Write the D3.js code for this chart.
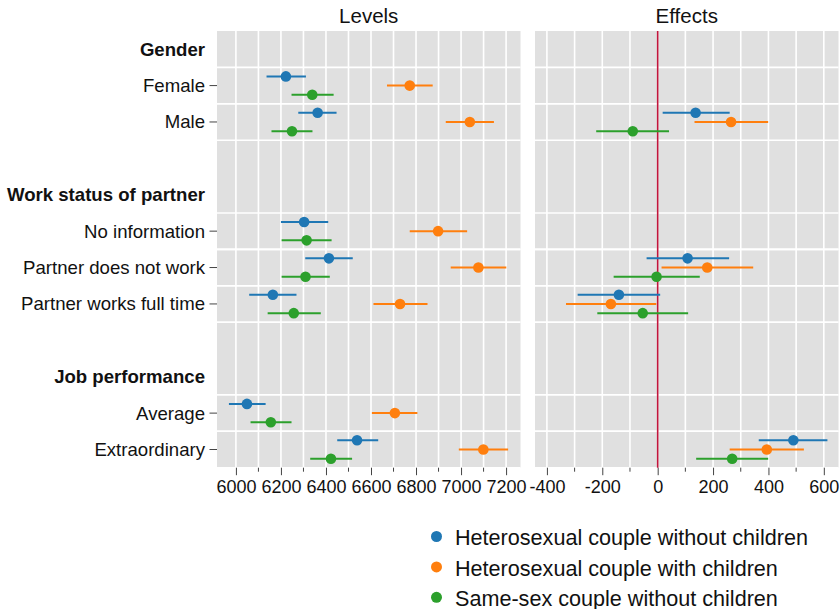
<!DOCTYPE html>
<html>
<head>
<meta charset="utf-8">
<script src="https://cdn.jsdelivr.net/npm/d3@7"></script>
<style>
  html, body { margin: 0; padding: 0; background: #fff; }
  svg { display: block; font-family: "Liberation Sans", Arial, Helvetica, sans-serif; }
</style>
</head>
<body>
<svg id="chart" width="840" height="609"></svg>
<script>
// Rows of the y axis: group headers, items and spacer rows
const rowLabels = ["Gender", "Female", "Male", "",
  "Work status of partner", "No information", "Partner does not work", "Partner works full time", "",
  "Job performance", "Average", "Extraordinary"];
const headerRows = ["Gender", "Work status of partner", "Job performance"];
const items = ["Female", "Male", "No information", "Partner does not work",
  "Partner works full time", "Average", "Extraordinary"];

const seriesNames = ["Heterosexual couple without children",
  "Heterosexual couple with children", "Same-sex couple without children"];
const seriesColors = ["#1f77b4", "#ff7f0e", "#2ca02c"];

// Predicted levels (estimate, lower, upper) per item
const levelsHetNoKids    = [6222, 6363, 6303, 6413, 6164, 6049, 6538];
const levelsHetNoKidsLo  = [6136, 6277, 6200, 6308, 6059, 5969, 6450];
const levelsHetNoKidsHi  = [6311, 6447, 6410, 6519, 6269, 6132, 6632];
const levelsHetKids      = [6772, 7039, 6898, 7077, 6729, 6706, 7099];
const levelsHetKidsLo    = [6671, 6932, 6772, 6954, 6611, 6604, 6990];
const levelsHetKidsHi    = [6874, 7146, 7027, 7201, 6851, 6806, 7209];
const levelsSameSex      = [6339, 6249, 6314, 6309, 6257, 6155, 6422];
const levelsSameSexLo    = [6247, 6158, 6203, 6203, 6141, 6065, 6330];
const levelsSameSexHi    = [6434, 6340, 6425, 6417, 6377, 6247, 6516];

// Effects relative to the reference category (null = reference)
const effectsHetNoKids   = [null, 137, null, 108, -140, null, 490];
const effectsHetNoKidsLo = [null, 18, null, -40, -289, null, 365];
const effectsHetNoKidsHi = [null, 260, null, 258, 9, null, 613];
const effectsHetKids     = [null, 265, null, 179, -169, null, 394];
const effectsHetKidsLo   = [null, 133, null, 14, -331, null, 260];
const effectsHetKidsHi   = [null, 399, null, 345, -5, null, 528];
const effectsSameSex     = [null, -90, null, -4, -54, null, 269];
const effectsSameSexLo   = [null, -222, null, -159, -218, null, 139];
const effectsSameSexHi   = [null, 41, null, 152, 110, null, 399];

const levelTicks = [6000, 6200, 6400, 6600, 6800, 7000, 7200];
const effectTicks = [-400, -200, 0, 200, 400, 600];

const levelSeries = [
  [levelsHetNoKids, levelsHetNoKidsLo, levelsHetNoKidsHi],
  [levelsHetKids, levelsHetKidsLo, levelsHetKidsHi],
  [levelsSameSex, levelsSameSexLo, levelsSameSexHi]
];
const effectSeries = [
  [effectsHetNoKids, effectsHetNoKidsLo, effectsHetNoKidsHi],
  [effectsHetKids, effectsHetKidsLo, effectsHetKidsHi],
  [effectsSameSex, effectsSameSexLo, effectsSameSexHi]
];

const svg = d3.select("#chart");
const plotTop = 31, plotBottom = 467.7;

const y = d3.scaleBand().domain(d3.range(rowLabels.length)).range([plotTop, plotBottom]);
const offset = d3.scalePoint().domain(d3.range(seriesNames.length)).range([-9.2, 9.2]);
const rowOf = name => rowLabels.indexOf(name);

const panels = [
  { title: "Levels", x: d3.scaleLinear().domain([5916, 7264]).range([217, 520.5]),
    ticks: levelTicks, series: levelSeries, zero: false },
  { title: "Effects", x: d3.scaleLinear().domain([-443, 653]).range([535, 838.5]),
    ticks: effectTicks, series: effectSeries, zero: true }
];

panels.forEach(p => {
  const x = p.x;
  const [x0, x1] = x.range();
  const g = svg.append("g");

  g.append("rect").attr("x", x0).attr("y", plotTop).attr("width", x1 - x0).attr("height", plotBottom - plotTop)
    .attr("fill", "#e0e0e0");

  // vertical grid lines every 100 units
  const step = 100;
  const gridVals = d3.range(p.ticks[0], p.ticks[p.ticks.length - 1] + 1, step);
  g.selectAll("line.vgrid").data(gridVals).join("line").attr("class", "vgrid")
    .attr("x1", d => x(d)).attr("x2", d => x(d))
    .attr("y1", plotTop).attr("y2", plotBottom)
    .attr("stroke", "#fff").attr("stroke-width", 1.6);

  // horizontal grid lines bounding item rows
  const hl = [];
  items.forEach(it => { const r = rowOf(it); hl.push(y(r), y(r) + y.bandwidth()); });
  g.selectAll("line.hgrid").data(hl).join("line").attr("class", "hgrid")
    .attr("x1", x0).attr("x2", x1).attr("y1", d => d).attr("y2", d => d)
    .attr("stroke", "#fff").attr("stroke-width", 1.6);

  if (p.zero) {
    g.append("line").attr("x1", x(0)).attr("x2", x(0)).attr("y1", plotTop).attr("y2", plotBottom)
      .attr("stroke", "#c2153c").attr("stroke-width", 1.6);
  }

  // x axis: major ticks with labels, minor ticks in between
  const axis = g.append("g").attr("transform", `translate(0,${plotBottom})`)
    .call(d3.axisBottom(x).tickValues(p.ticks).tickSize(7.5).tickPadding(5).tickFormat(d => String(d)));
  axis.select(".domain").remove();
  axis.selectAll(".tick line").attr("stroke", "#444").attr("stroke-width", 1);
  axis.selectAll(".tick text").attr("font-size", 18).attr("fill", "#111")
    .attr("font-family", "Liberation Sans, Arial, sans-serif");
  const minor = gridVals.filter(v => !p.ticks.includes(v));
  g.selectAll("line.minor").data(minor).join("line").attr("class", "minor")
    .attr("x1", d => x(d)).attr("x2", d => x(d)).attr("y1", plotBottom).attr("y2", plotBottom + 4)
    .attr("stroke", "#444").attr("stroke-width", 1);

  g.append("text").attr("x", (x0 + x1) / 2).attr("y", 23.3).attr("text-anchor", "middle")
    .attr("font-size", 20.5).attr("fill", "#111").text(p.title);

  // error bars and points
  p.series.forEach((s, si) => {
    const [est, lo, hi] = s;
    const pts = items.map((it, i) => ({ it, v: est[i], lo: lo[i], hi: hi[i] })).filter(d => d.v !== null);
    const cy = d => y(rowOf(d.it)) + y.bandwidth() / 2 + offset(si);
    g.selectAll(`line.ci${si}`).data(pts).join("line").attr("class", `ci${si}`)
      .attr("x1", d => x(d.lo)).attr("x2", d => x(d.hi))
      .attr("y1", cy).attr("y2", cy)
      .attr("stroke", seriesColors[si]).attr("stroke-width", 2);
    g.selectAll(`circle.pt${si}`).data(pts).join("circle").attr("class", `pt${si}`)
      .attr("cx", d => x(d.v)).attr("cy", cy).attr("r", 5.3)
      .attr("fill", seriesColors[si]);
  });
});

// y-axis labels on the left panel
const yl = svg.append("g");
rowLabels.forEach((lab, r) => {
  if (!lab) return;
  const cy = y(r) + y.bandwidth() / 2;
  const isHeader = headerRows.includes(lab);
  yl.append("text").attr("x", 205).attr("y", cy).attr("dy", "0.35em")
    .attr("text-anchor", "end").attr("font-size", 18.6)
    .attr("font-weight", isHeader ? "bold" : "normal").attr("fill", "#111").text(lab);
  if (!isHeader) {
    yl.append("line").attr("x1", 209.5).attr("x2", 217).attr("y1", cy).attr("y2", cy)
      .attr("stroke", "#444").attr("stroke-width", 1);
  }
});

// legend
const leg = svg.append("g");
seriesNames.forEach((n, i) => {
  const cy = 536.5 + i * 30.4;
  leg.append("circle").attr("cx", 436.5).attr("cy", cy).attr("r", 5.5).attr("fill", seriesColors[i]);
  leg.append("text").attr("x", 455).attr("y", cy + 8.8).attr("font-size", 21.6).attr("fill", "#111").text(n);
});
</script>
</body>
</html>
